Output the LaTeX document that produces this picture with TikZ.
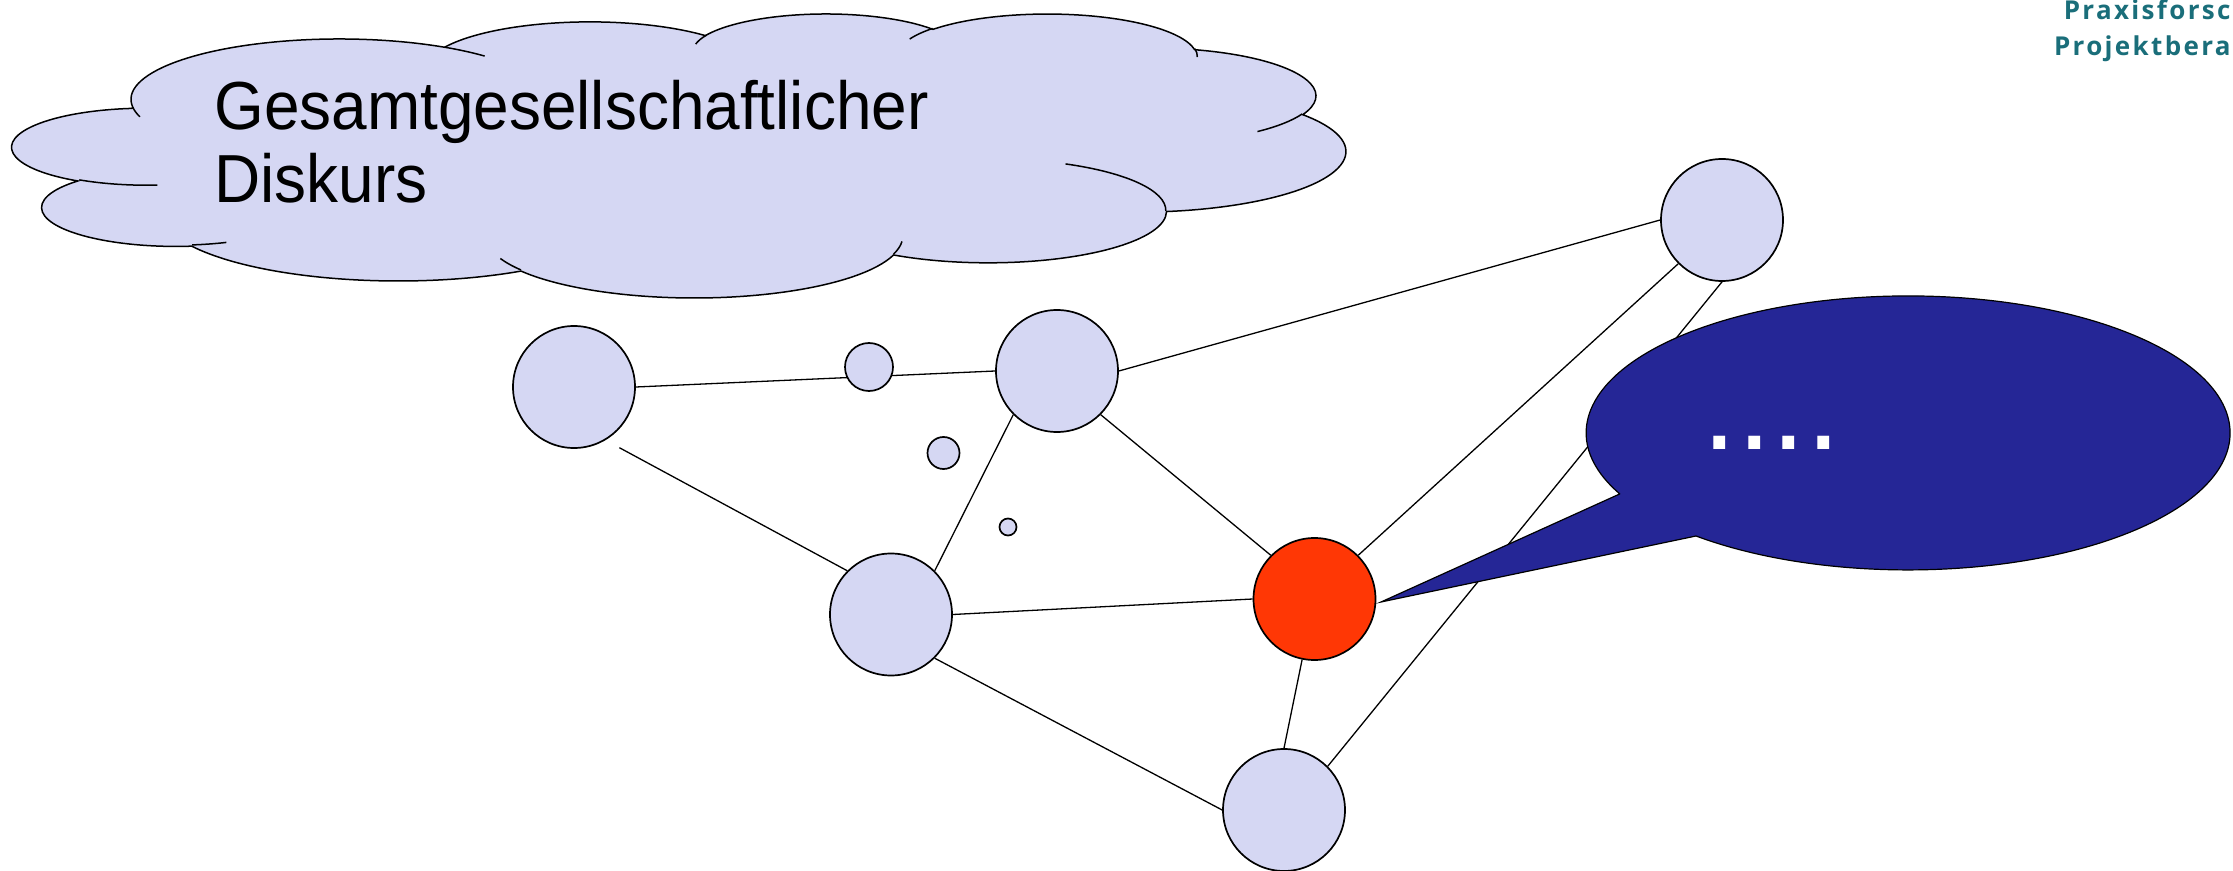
\documentclass[tikz,border=0pt]{standalone}
\usepackage{fontspec}
\setmainfont{Liberation Sans}
\newfontfamily\logofont[LetterSpace=9]{Open Sans}
\usepackage{graphicx}
\definecolor{lav}{RGB}{213,215,243}
\definecolor{hotred}{RGB}{255,55,5}
\definecolor{callblue}{RGB}{37,38,150}
\definecolor{teal}{RGB}{26,110,122}
\begin{document}
\begin{tikzpicture}[x=0.5pt,y=-0.5pt,
  bignode/.style={circle,draw=black,line width=0.85pt,fill=lav,minimum size=61pt,inner sep=0pt},
  smallnode/.style={circle,draw=black,line width=0.85pt,fill=lav,inner sep=0pt},
  link/.style={draw=black,line width=0.65pt},
  cloudline/.style={draw=black,line width=0.75pt},
  cloudtext/.style={anchor=base west,inner sep=0pt,font=\fontsize{34}{34}\selectfont},
  logotext/.style={anchor=base west,inner sep=0pt,text=teal,font=\logofont\bfseries\fontsize{13}{13}\selectfont}]
\useasboundingbox (0,0) rectangle (2233,871);
\clip (0,0) rectangle (2233,871);

% ---------- cloud ----------
\begin{scope}[shift={(12.6,13.08)},xscale=3.0851,yscale=0.65713]
  \filldraw[fill=lav,cloudline] (39.00,143.70)
    arc[start angle=-187.75,end angle=-59.64,x radius=67.53,y radius=91.90]
    arc[start angle=-152.04,end angle=-45.45,x radius=53.33,y radius=72.67]
    arc[start angle=-153.49,end angle=-37.33,x radius=43.65,y radius=59.45]
    arc[start angle=-139.71,end angle=-10.21,x radius=48.57,y radius=65.95]
    arc[start angle=-74.77,end angle=23.21,x radius=53.33,y radius=72.73]
    arc[start angle=-37.53,end angle=81.86,x radius=67.75,y radius=92.20]
    arc[start angle=0.46,end angle=121.98,x radius=57.85,y radius=78.67]
    arc[start angle=16.84,end angle=146.23,x radius=67.52,y radius=92.15]
    arc[start angle=58.99,end angle=150.18,x radius=77.20,y radius=105.43]
    arc[start angle=-276.69,end angle=-136.90,x radius=43.60,y radius=59.18]
    arc[start angle=-239.65,end angle=-95.89,x radius=43.45,y radius=59.45]
    -- cycle;
  \draw[cloudline] (46.93,261.77) arc[start angle=85.55,end angle=120.35,x radius=43.45,y radius=59.45];
  \draw[cloudline] (69.28,348.99) arc[start angle=68.24,end angle=83.31,x radius=43.60,y radius=59.18];
  \draw[cloudline] (164.78,390.90) arc[start angle=146.23,end angle=158.47,x radius=67.52,y radius=92.15];
  \draw[cloudline] (288.27,347.51) arc[start angle=4.74,end angle=16.84,x radius=67.52,y radius=92.15];
  \draw[cloudline] (341.29,229.54) arc[start angle=-64.03,end angle=0.46,x radius=57.85,y radius=78.67];
  \draw[cloudline] (417.98,153.54) arc[start angle=23.21,end angle=49.64,x radius=53.33,y radius=72.73];
  \draw[cloudline] (383.24,54.26) arc[start angle=-10.21,end angle=0.82,x radius=48.57,y radius=65.95];
  \draw[cloudline] (290.78,39.52) arc[start angle=-156.29,end angle=-139.71,x radius=48.57,y radius=65.95];
  \draw[cloudline] (221.41,47.20) arc[start angle=-167.73,end angle=-153.49,x radius=43.65,y radius=59.45];
  \draw[cloudline] (140.00,51.92) arc[start angle=-59.64,end angle=-45.73,x radius=67.53,y radius=91.90];
  \draw[cloudline] (41.27,157.89) arc[start angle=163.20,end angle=172.255,x radius=67.53,y radius=91.90];
\end{scope}
\node[cloudtext] (cloudtxta) at (214,129.6) {\scalebox{0.94}[1]{Gesamtgesellschaftlicher}};
\node[cloudtext] (cloudtxtb) at (214,202.2) {\scalebox{0.94}[1]{Diskurs}};

% ---------- logo text ----------
\node[logotext,anchor=base east] (logoa) at (2231,20) {Praxisforsc};
\node[logotext,anchor=base east] (logob) at (2231,56) {Projektbera};

% ---------- nodes ----------
\node[bignode] (A) at (574,387) {};
\node[bignode] (B) at (1057,371) {};
\node[bignode] (C) at (891,614.5) {};
\node[bignode,fill=hotred] (D) at (1314.5,599) {};
\node[bignode] (E) at (1284,810) {};
\node[bignode] (F) at (1722,220) {};
\coordinate (a2) at (619.4,447.7);

% ---------- connectors ----------
\draw[link] (A.east) -- (B.west);
\draw[link] (a2) -- (C.135);
\draw[link] (B.225) -- (C.45);
\draw[link] (B.315) -- (D.135);
\draw[link] (B.east) -- (F.west);
\draw[link] (C.east) -- (D.west);
\draw[link] (C.315) -- (E.west);
\draw[link] (D) -- (E.north);
\draw[link] (D.45) -- (F.225);
\draw[link] (E.45) -- (F.south);

\node[smallnode,minimum size=24pt] (s1) at (869,367) {};
\node[smallnode,minimum size=16pt] (s2) at (943.5,453) {};
\node[smallnode,minimum size=8.5pt] (s3) at (1008,527) {};

% ---------- callout ----------
\coordinate (tip) at (1381,602);
\coordinate (tailup) at (1619.6,494);
\coordinate (taillow) at (1696,536);
\filldraw[fill=callblue,draw=black,line width=0.6pt] (tailup) -- (tip) -- (taillow)
  arc[start angle=131.2,end angle=-206.4,x radius=322,y radius=137] -- cycle;
\node[anchor=base,inner sep=0pt,text=white,font=\fontsize{62}{62}\selectfont] (dots) at (1771.5,450) {....};
\end{tikzpicture}
\end{document}
